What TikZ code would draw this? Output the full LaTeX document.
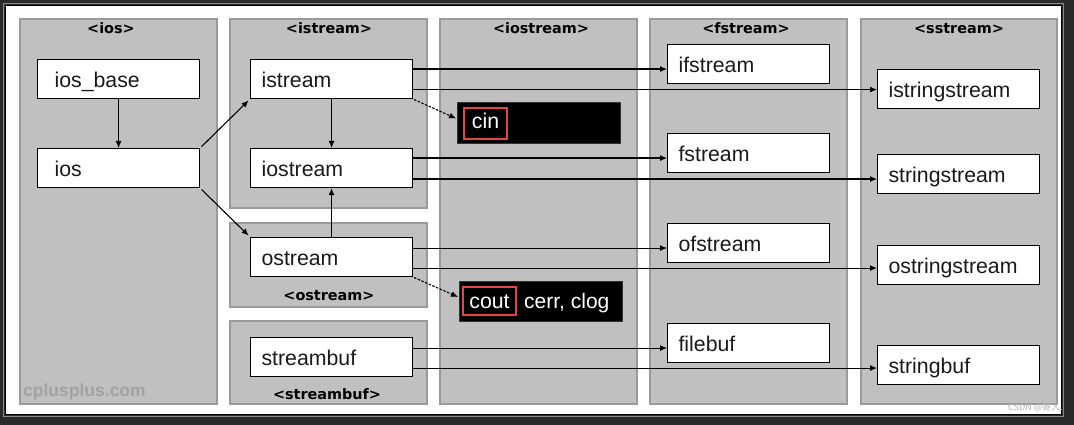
\documentclass[tikz,border=0pt]{standalone}
\usepackage{fontspec}
\setmainfont{Liberation Sans}
\newfontfamily\hdrfont{DejaVu Sans}
\newfontfamily\cjkfont{Noto Sans CJK SC}
\usetikzlibrary{arrows.meta}
\definecolor{grp}{HTML}{C0C0C0}
\definecolor{grpb}{HTML}{9A9A9A}
\definecolor{framec}{HTML}{2A2A2A}
\definecolor{framel}{HTML}{8A8A8A}
\definecolor{redb}{HTML}{E0474C}
\definecolor{txt}{HTML}{1A1A1A}
\definecolor{wm}{HTML}{A2A2A2}
\begin{document}
\begin{tikzpicture}[x=1pt,y=-1pt,
  group/.style={draw=grpb, line width=2pt, fill=grp, anchor=north west, inner sep=0pt},
  hdr/.style={font=\hdrfont\bfseries\fontsize{14.4}{16}\selectfont, text=black, anchor=base, inner sep=0pt},
  clsbase/.style={draw=black, line width=1.1pt, fill=white, anchor=north west,
    minimum width=162pt, minimum height=39pt, inner ysep=0pt,
    text height=20pt, text depth=4pt, align=left, text=txt,
    font=\fontsize{21.3}{24}\selectfont},
  cls/.style={clsbase, inner xsep=11pt, text width=140pt},
  clsw/.style={clsbase, inner xsep=17pt, text width=128pt},
  blk/.style={fill=black, draw=black!80, line width=0.8pt, anchor=north west, inner sep=0pt},
  redbox/.style={draw=redb, line width=1.4pt, inner sep=0pt, text=white,
    font=\fontsize{21.3}{24}\selectfont},
  arr/.style={draw=black, line width=1.1pt, -{Latex[length=7pt,width=6pt]}},
  darr/.style={arr, dash pattern=on 2.5pt off 1.5pt}]
\useasboundingbox (0,0) rectangle (1074,425);
% window frame
\fill[framec] (0,0) rectangle (1074,425);
\draw[framel, line width=1pt] (3.5,3.5) rectangle (1063.5,416.5);
\draw[black, line width=1.2pt, fill=white] (5.5,5.5) rectangle (1061.5,414.5);

% groups
\node[group, minimum width=197pt, minimum height=385pt] (gios) at (19,18) {};
\node[group, minimum width=197pt, minimum height=189pt] (gistream) at (229,18) {};
\node[group, minimum width=197pt, minimum height=84pt] (gostream) at (229,222) {};
\node[group, minimum width=197pt, minimum height=83pt] (gstreambuf) at (229,320) {};
\node[group, minimum width=197pt, minimum height=385pt] (giostream) at (439,18) {};
\node[group, minimum width=197pt, minimum height=385pt] (gfstream) at (649,18) {};
\node[group, minimum width=196pt, minimum height=385pt] (gsstream) at (860,18) {};

% headers
\node[hdr] (hios) at (111,34) {<ios>};
\node[hdr] (histream) at (329,34) {<istream>};
\node[hdr] (hostream) at (329,300) {<ostream>};
\node[hdr] (hstreambuf) at (327,399) {<streambuf>};
\node[hdr] (hiostream) at (541,34) {<iostream>};
\node[hdr] (hfstream) at (746,34) {<fstream>};
\node[hdr] (hsstream) at (959,34) {<sstream>};

% watermark
\node[anchor=base west, inner sep=0pt, text=wm, font=\bfseries\fontsize{17.5}{20}\selectfont] (cpp) at (23,396) {cplusplus.com};

% class boxes
\node[clsw] (iosbase) at (37,59) {ios\_base};
\node[clsw] (ios) at (37,148) {ios};
\node[cls] (istream) at (250,59) {istream};
\node[cls] (iostream) at (250,148) {iostream};
\node[cls] (ostream) at (250,237) {ostream};
\node[cls] (streambuf) at (250,337) {streambuf};
\node[cls] (ifstream) at (667,44) {ifstream};
\node[cls] (fstream) at (667,133) {fstream};
\node[cls] (ofstream) at (667,223) {ofstream};
\node[cls] (filebuf) at (667,323) {filebuf};
\node[cls] (istringstream) at (877,69) {istringstream};
\node[cls] (stringstream) at (877,154) {stringstream};
\node[cls] (ostringstream) at (877,245) {ostringstream};
\node[cls] (stringbuf) at (877,345) {stringbuf};

% cin / cout objects
\node[blk, minimum width=163pt, minimum height=41pt] (cinbox) at (457,102) {};
\node[redbox, minimum width=43pt, minimum height=31pt, text height=15pt, text depth=4pt] (cin) at (485.5,123.5) {cin};
\node[blk, minimum width=163pt, minimum height=40pt] (coutbox) at (459,281) {};
\node[redbox, minimum width=53pt, minimum height=28pt, text height=18pt, text depth=4pt] (cout) at (489.5,301) {cout};
\node[anchor=base west, inner sep=0pt, text=white, font=\fontsize{21}{24}\selectfont] (cerr) at (524,308) {cerr, clog};

% vertical / diagonal arrows
\draw[arr] (iosbase) -- (ios);
\draw[arr] (istream) -- (iostream);
\draw[arr] (ostream) -- (iostream);
\draw[arr, shorten <=2pt, shorten >=2pt] (ios.north east) -- (istream.south west);
\draw[arr, shorten <=2pt, shorten >=2pt] (ios.south east) -- (ostream.north west);
\draw[darr, shorten <=1pt, shorten >=1pt] (istream.south east) -- ([yshift=4pt]cinbox.west);
\draw[darr, shorten <=1pt, shorten >=1pt] (ostream.south east) -- ([yshift=4pt]coutbox.west);

% horizontal arrows
\coordinate (a1) at ([yshift=10pt]istream.east);
\coordinate (a2) at ([yshift=-10.5pt]istream.east);
\coordinate (b1) at ([yshift=10pt]iostream.east);
\coordinate (b2) at ([yshift=-11pt]iostream.east);
\coordinate (c1) at ([yshift=9pt]ostream.east);
\coordinate (c2) at ([yshift=-11pt]ostream.east);
\coordinate (d1) at ([yshift=9pt]streambuf.east);
\coordinate (d2) at ([yshift=-11pt]streambuf.east);
\draw[arr] (a1) -- (a1 -| ifstream.west);
\draw[arr] (a2) -- (a2 -| istringstream.west);
\draw[arr] (b1) -- (b1 -| fstream.west);
\draw[arr] (b2) -- (b2 -| stringstream.west);
\draw[arr] (c1) -- (c1 -| ofstream.west);
\draw[arr] (c2) -- (c2 -| ostringstream.west);
\draw[arr] (d1) -- (d1 -| filebuf.west);
\draw[arr] (d2) -- (d2 -| stringbuf.west);

% csdn watermark
\node[anchor=base west, inner sep=0pt, text=black!30, font=\cjkfont\fontsize{9}{10}\selectfont] (csdn) at (1008,410) {CSDN @寄人.};
\end{tikzpicture}
\end{document}
